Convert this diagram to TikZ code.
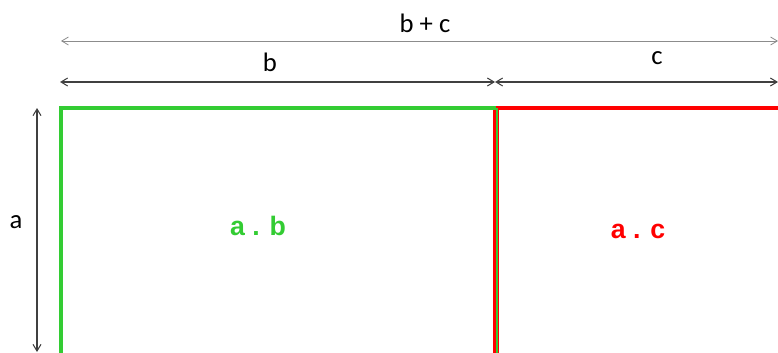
\documentclass[tikz,border=0pt]{standalone}
\usepackage{fontspec}
\setmainfont{Carlito}
\newfontfamily\boldsans{Liberation Sans}
\usetikzlibrary{arrows.meta,positioning}
\definecolor{sidegreen}{RGB}{51,204,51}
\definecolor{sidered}{RGB}{255,0,0}

\begin{document}
\begin{tikzpicture}[
    x=0.75pt, y=-0.75pt,
    dim/.style={{Straight Barb[length=5pt,width=6pt]}-{Straight Barb[length=5pt,width=6pt]}, line width=0.8pt, black!75},
    dimlight/.style={dim, line width=0.6pt, black!45},
    label/.style={inner sep=0pt, font=\fontsize{20}{24}\selectfont},
    area/.style={inner sep=0pt, font=\boldsans\bfseries\fontsize{20}{24}\selectfont}
]
    \useasboundingbox (0,0) rectangle (778,353);

    % corner points
    \coordinate (tl) at (61,108);
    \coordinate (tm) at (496,108);
    \coordinate (tr) at (780,108);
    \coordinate (bl) at (61,356);
    \coordinate (bm) at (496,356);

    % dimension ends
    \coordinate (sumL) at (61,41);
    \coordinate (sumR) at (778,41);
    \coordinate (bL) at (60,82);
    \coordinate (bR) at (495,82);
    \coordinate (cR) at (778,82);
    \coordinate (aT) at (37,108);
    \coordinate (aB) at (37,352);

    % rectangles
    \draw[sidered, line width=3pt] (tm) -- (tr);
    \draw[sidered, line width=4pt] (tm) -- (bm);
    \draw[sidegreen, line width=3pt] (bl) -- (tl) -- (tm);
    \draw[sidegreen, line width=1.2pt] ([xshift=0.6pt]tm) -- ([xshift=0.6pt]bm);

    % dimensions
    \draw[dimlight] (sumL) -- (sumR);
    \draw[dim] (bL) -- (bR);
    \draw[dim] (bR) -- (cR);
    \draw[dim] (aT) -- (aB);

    \node[label] (bc) at (425,23) {b + c};
    \node[label] (lb) at (270,62) {b};
    \node[label] (lc) at (657,58) {c};
    \node[label] (la) at (16,222) {a};

    \node[area, text=sidegreen] (ab) at (258,226) {a . b};
    \node[area, text=sidered] (ac) at (638,231) {a . c};
\end{tikzpicture}
\end{document}
